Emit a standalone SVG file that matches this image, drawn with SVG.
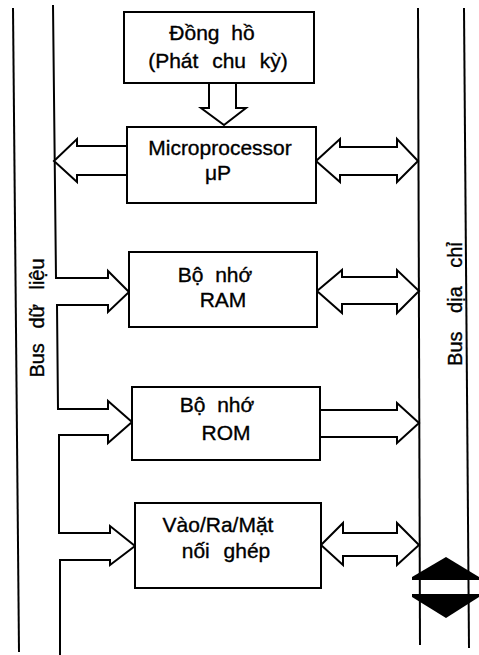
<svg xmlns="http://www.w3.org/2000/svg" width="479" height="655" viewBox="0 0 479 655">
<style>
.box{fill:#fff;stroke:#000;stroke-width:2}
.ln{fill:none;stroke:#000;stroke-width:2;stroke-linejoin:miter}
.ar{fill:#fff;stroke:#000;stroke-width:2;stroke-linejoin:miter}
.t{font-family:"Liberation Sans",Arial,sans-serif;font-size:21px;fill:#000;stroke:#000;stroke-width:0.35;text-anchor:middle}
.lb{font-family:"Liberation Sans",Arial,sans-serif;font-size:20px;fill:#000;stroke:#000;stroke-width:0.35;text-anchor:middle}
</style>
<rect width="479" height="655" fill="#fff"/>
<g id="buses">
<line class="ln" x1="13" y1="8" x2="19" y2="652"/>
<line class="ln" x1="418" y1="8" x2="420" y2="645"/>
<line class="ln" x1="464" y1="8" x2="469" y2="648"/>
<text class="lb" transform="translate(44,318) rotate(-90)" word-spacing="9">Bus dữ liệu</text>
<text class="lb" transform="translate(462,304) rotate(-90)" word-spacing="13">Bus dịa chỉ</text>
</g>
<g id="connectors">
<polyline class="ln" points="53,5 56,278 108,278 108,271 129,292 108,312 108,305 57,305 58,409 108,409 108,401 132,422 108,443 108,435 59,435 59,533 110,533 110,526 135,546 110,565 110,560 60,560 60,655"/>
<polygon class="ar" points="209,83 209,108 201,108 224,125 246,108 236,108 236,83"/>
<polygon class="ar" points="127,146 77,146 77,139 54,161 77,182 77,175 127,175"/>
<polygon class="ar" points="316,161 340,139 340,147 397,147 397,139 418,161 397,182 397,175 340,175 340,182"/>
<polygon class="ar" points="317,291 342,270 342,277 397,277 397,270 419,291 397,313 397,304 342,304 342,313"/>
<polyline class="ar" points="320,410 397,410 397,403 419,423 397,443 397,437 320,437"/>
<polygon class="ar" points="321,545 343,523 343,533 397,533 397,523 419,545 397,565 397,556 343,556 343,565"/>
<polygon fill="#000" points="446,557 479,577 479,580 412,580 412,577"/>
<polygon fill="#000" points="412,594 479,594 479,597 446,618 412,597"/>
</g>
<g id="clock">
<rect class="box" x="124" y="12" width="190" height="71"/>
<text class="t" x="212" y="40" word-spacing="6">Đồng hồ</text>
<text class="t" x="218" y="68" word-spacing="8">(Phát chu kỳ)</text>
</g>
<g id="cpu">
<rect class="box" x="127" y="127" width="189" height="76"/>
<text class="t" x="220" y="155">Microprocessor</text>
<text class="t" x="218" y="180">μP</text>
</g>
<g id="ram">
<rect class="box" x="129" y="252" width="188" height="75"/>
<text class="t" x="215" y="282" word-spacing="6">Bộ nhớ</text>
<text class="t" x="223" y="307">RAM</text>
</g>
<g id="rom">
<rect class="box" x="132" y="387" width="188" height="73"/>
<text class="t" x="217" y="412" word-spacing="6">Bộ nhớ</text>
<text class="t" x="226" y="440">ROM</text>
</g>
<g id="io">
<rect class="box" x="135" y="503" width="186" height="85"/>
<text class="t" x="218" y="532">Vào/Ra/Mặt</text>
<text class="t" x="226" y="558" word-spacing="8">nối ghép</text>
</g>
</svg>
